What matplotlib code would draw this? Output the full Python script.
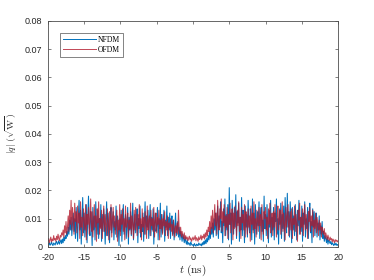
import matplotlib
matplotlib.use('Agg')
import matplotlib.pyplot as plt
import numpy as np

# |q| samples, in units of 1e-4 sqrt(W), t from -20 to 20 ns in 0.1 ns steps
t_start, t_stop = -20, 20
q_nfdm = [
    12, 8, 15, 6, 10, 18, 9, 5, 14, 11,
    7, 16, 20, 9, 13, 22, 10, 17, 25, 12,
    28, 15, 35, 22, 40, 30, 55, 38, 70, 45,
    95, 60, 105, 40, 85, 120, 55, 100, 30, 140,
    75, 20, 110, 165, 60, 130, 10, 95, 175, 50,
    120, 35, 80, 150, 15, 105, 180, 70, 40, 125,
    90, 5, 140, 60, 110, 25, 160, 85, 45, 130,
    30, 100, 70, 150, 20, 115, 55, 135, 80, 10,
    95, 160, 40, 120, 65, 15, 105, 140, 50, 85,
    125, 25, 90, 60, 145, 35, 110, 75, 5, 100,
    55, 130, 20, 95, 150, 45, 80, 115, 30, 70,
    140, 10, 105, 60, 125, 40, 90, 155, 25, 75,
    115, 50, 85, 135, 15, 100, 65, 145, 35, 80,
    55, 120, 20, 95, 160, 45, 110, 70, 130, 30,
    90, 150, 40, 105, 60, 135, 10, 85, 120, 55,
    75, 140, 25, 100, 65, 155, 35, 115, 50, 90,
    130, 20, 95, 70, 145, 40, 105, 60, 120, 30,
    85, 110, 45, 95, 25, 75, 120, 40, 65, 90,
    35, 70, 25, 55, 40, 20, 45, 30, 15, 35,
    20, 10, 25, 8, 15, 12, 5, 18, 10, 6,
    8, 4, 12, 6, 3, 10, 7, 5, 14, 9,
    6, 11, 4, 15, 8, 20, 10, 25, 12, 30,
    18, 40, 25, 55, 30, 70, 45, 85, 35, 100,
    60, 120, 40, 95, 145, 30, 110, 70, 160, 50,
    90, 15, 135, 75, 170, 40, 115, 60, 150, 25,
    210, 80, 120, 10, 165, 95, 45, 140, 70, 185,
    30, 125, 85, 155, 20, 105, 60, 175, 40, 130,
    95, 15, 145, 70, 115, 35, 165, 80, 50, 135,
    100, 25, 170, 60, 120, 10, 150, 85, 45, 125,
    75, 160, 30, 110, 140, 55, 95, 20, 180, 65,
    115, 40, 150, 85, 15, 130, 70, 165, 35, 105,
    60, 140, 25, 120, 90, 170, 45, 100, 10, 135,
    80, 155, 30, 115, 65, 145, 20, 175, 95, 50,
    190, 70, 125, 35, 160, 85, 15, 140, 60, 110,
    40, 150, 90, 25, 130, 75, 165, 45, 105, 55,
    145, 20, 120, 80, 160, 35, 100, 65, 140, 30,
    110, 155, 50, 90, 15, 135, 70, 125, 40, 95,
    120, 35, 85, 60, 110, 25, 75, 45, 90, 30,
    55, 20, 40, 30, 15, 35, 10, 25, 18, 12,
    20, 8, 15, 10, 5, 12, 7, 14, 6, 9, 5,
]
q_ofdm = [
    20, 30, 15, 25, 35, 18, 28, 22, 40, 25,
    30, 20, 38, 26, 45, 30, 22, 40, 35, 50,
    42, 60, 35, 75, 50, 90, 45, 70, 110, 55,
    130, 80, 165, 60, 140, 100, 45, 155, 90, 125,
    50, 145, 85, 120, 30, 160, 70, 105, 40, 135,
    95, 60, 150, 25, 115, 80, 140, 45, 105, 170,
    55, 125, 35, 95, 150, 70, 110, 20, 135, 85,
    160, 45, 100, 65, 130, 30, 90, 145, 55, 115,
    75, 40, 135, 90, 25, 125, 60, 150, 35, 100,
    140, 70, 110, 45, 85, 130, 20, 95, 60, 150,
    40, 115, 80, 135, 55, 100, 25, 145, 70, 90,
    120, 35, 95, 65, 155, 45, 110, 80, 30, 130,
    60, 140, 90, 40, 115, 75, 150, 50, 100, 25,
    135, 70, 105, 45, 125, 85, 30, 145, 60, 95,
    110, 40, 130, 75, 100, 55, 140, 35, 90, 120,
    50, 105, 80, 130, 25, 95, 65, 115, 45, 100,
    75, 125, 40, 90, 60, 110, 30, 85, 70, 100,
    55, 80, 40, 95, 65, 35, 75, 50, 85, 45,
    130, 60, 45, 70, 35, 55, 40, 30, 50, 25,
    40, 28, 35, 22, 30, 38, 25, 32, 20, 28,
    35, 25, 30, 40, 22, 33, 28, 20, 36, 26,
    30, 42, 25, 38, 32, 45, 28, 50, 35, 60,
    40, 70, 55, 90, 45, 110, 65, 130, 50, 100,
    150, 75, 120, 45, 165, 90, 60, 135, 100, 170,
    55, 125, 85, 150, 40, 110, 70, 140, 30, 115,
    80, 155, 50, 100, 135, 25, 120, 65, 145, 90,
    40, 130, 75, 160, 55, 105, 30, 140, 85, 115,
    60, 150, 35, 125, 95, 45, 135, 70, 110, 20,
    145, 80, 120, 50, 160, 65, 100, 35, 130, 90,
    55, 140, 75, 115, 25, 150, 85, 45, 125, 100,
    140, 60, 105, 30, 135, 80, 155, 50, 95, 120,
    40, 125, 70, 150, 90, 35, 110, 145, 60, 100,
    130, 45, 95, 160, 55, 120, 80, 25, 140, 70,
    110, 150, 40, 90, 125, 60, 135, 30, 100, 80,
    145, 55, 115, 75, 20, 130, 95, 155, 45, 105,
    70, 135, 40, 100, 150, 60, 115, 85, 30, 125,
    90, 140, 55, 110, 75, 130, 35, 95, 65, 120,
    50, 105, 80, 40, 95, 60, 85, 35, 70, 55,
    45, 65, 30, 50, 38, 25, 42, 30, 22, 35,
    25, 30, 18, 28, 22, 15, 26, 20, 24, 18, 22,
]
labels = ['NFDM', 'OFDM']

plt.rcParams['axes.unicode_minus'] = False
plt.rcParams['mathtext.fontset'] = 'cm'
plt.rcParams['font.family'] = ['Liberation Sans', 'DejaVu Sans']

t = np.linspace(t_start, t_stop, len(q_nfdm))
nfdm = np.array(q_nfdm) * 1e-4
ofdm = np.array(q_ofdm) * 1e-4

fig = plt.figure(figsize=(3.74, 2.80), dpi=100)
ax = fig.add_axes([0.128, 0.118, 0.776, 0.807])

ax.plot(t, nfdm, color='#0072BD', lw=0.75, label=labels[0])
ax.plot(t, ofdm, color='#B2182B', lw=0.75, alpha=0.8, label=labels[1])

ax.set_xlim(-20, 20)
ax.set_ylim(0, 0.08)
ax.set_xticks(np.arange(-20, 21, 5))
ax.set_yticks(np.arange(0, 0.081, 0.01))
ax.set_yticklabels(['0'] + [f'{v:.2f}' for v in np.arange(0.01, 0.081, 0.01)])

grey = '#4d4d4d'
for s in ax.spines.values():
    s.set_color(grey)
    s.set_linewidth(0.6)
ax.tick_params(direction='in', top=True, right=True, length=2.5, width=0.5,
               color=grey, labelcolor='#262626', labelsize=6.5, pad=4)

ax.set_xlabel(r'$t\ (\mathrm{ns})$', fontsize=8, color='#262626', labelpad=1)
ax.set_ylabel(r'$|q|\ (\sqrt{\mathrm{W}})$', fontsize=7, color='#262626')
ax.yaxis.set_label_coords(-0.1, 0.5)

leg = ax.legend(loc='upper left', bbox_to_anchor=(0.03, 0.965),
                prop={'family': 'Liberation Serif', 'size': 5.5},
                frameon=True, fancybox=False, handlelength=4.2,
                borderpad=0.4, labelspacing=0.25, handletextpad=0.3)
leg.get_frame().set_edgecolor('#262626')
leg.get_frame().set_linewidth(0.5)
for ln in leg.get_lines():
    ln.set_linewidth(0.7)

fig.savefig('out.png', dpi=100)
